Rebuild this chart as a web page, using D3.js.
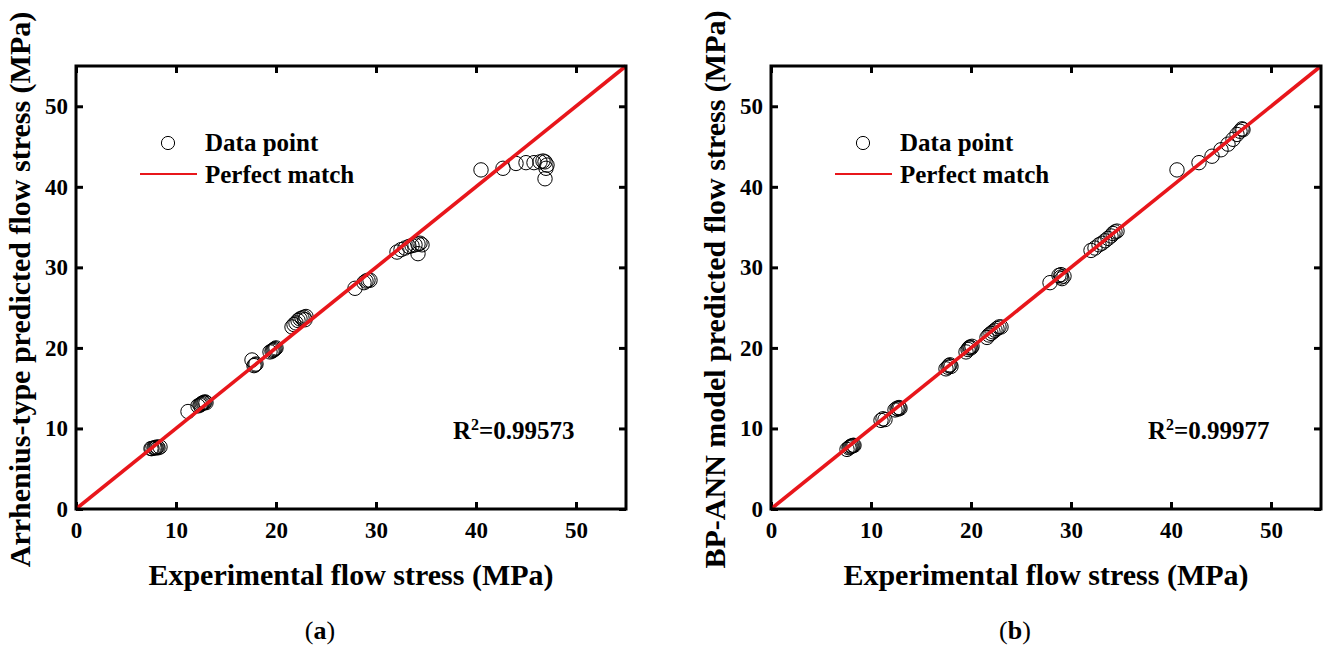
<!DOCTYPE html>
<html>
<head>
<meta charset="utf-8">
<script src="https://cdn.jsdelivr.net/npm/d3@7"></script>
<style>
  body { margin: 0; background: #fff; }
  svg text { font-family: "Liberation Serif", "Times New Roman", serif; fill: #000; }
</style>
</head>
<body>
<svg id="chart" width="1328" height="650"></svg>
<script>
// Axis ticks shared by both panels
const tickValues = [0, 10, 20, 30, 40, 50];
const axisDomain = [0, 55];

// (a) Arrhenius-type model: experimental vs predicted flow stress (MPa)
const expA = [
  7.5, 7.6, 7.8, 7.9, 8.0, 8.1, 8.2, 8.4,
  11.2, 12.2, 12.4, 12.5, 12.6, 12.7, 12.8, 12.9, 13.0,
  17.6, 17.8, 17.9, 18.0,
  19.4, 19.6, 19.7, 19.8, 19.9, 20.0,
  21.6, 21.8, 22.0, 22.2, 22.4, 22.6, 22.8, 23.0, 22.9,
  27.9, 28.8, 29.0, 29.2, 29.4,
  32.1, 32.5, 32.9, 33.3, 33.6, 33.9, 34.2, 34.4, 34.6, 34.2,
  40.5, 42.7, 44.0, 45.0, 45.8, 46.4, 46.7, 46.9, 47.1, 47.0, 46.9
];
const predA = [
  7.5, 7.5, 7.6, 7.6, 7.6, 7.7, 7.6, 7.7,
  12.1, 12.8, 12.9, 13.0, 13.1, 13.2, 13.2, 13.3, 13.2,
  18.5, 17.8, 17.9, 18.0,
  19.5, 19.6, 19.7, 19.8, 19.9, 20.0,
  22.6, 22.9, 23.1, 23.4, 23.6, 23.7, 23.8, 23.9, 23.5,
  27.4, 28.1, 28.3, 28.4, 28.4,
  31.9, 32.2, 32.4, 32.6, 32.7, 32.8, 32.9, 33.0, 32.8, 31.7,
  42.1, 42.3, 42.9, 43.0, 43.0, 43.1, 43.2, 43.1, 42.7, 42.3, 41.0
];

// (b) BP-ANN model: experimental vs predicted flow stress (MPa)
const expB = [
  7.6, 7.8, 7.9, 8.0, 8.1, 8.2, 8.3,
  11.0, 11.2, 11.4, 12.4, 12.6, 12.7, 12.8, 12.9,
  17.5, 17.7, 17.8, 17.9, 18.0,
  19.5, 19.7, 19.8, 19.9, 20.0, 20.1,
  21.6, 21.8, 22.0, 22.2, 22.4, 22.6, 22.8, 23.0,
  27.9, 28.8, 29.0, 29.1, 29.3, 29.0,
  32.0, 32.4, 32.8, 33.1, 33.4, 33.7, 34.0, 34.2, 34.4, 34.6,
  40.6, 42.8, 44.1, 45.0, 45.7, 46.2, 46.6, 46.9, 47.1, 47.2
];
const predB = [
  7.4, 7.6, 7.7, 7.8, 7.8, 7.9, 7.9,
  11.0, 11.2, 11.1, 12.3, 12.5, 12.4, 12.6, 12.5,
  17.4, 17.6, 17.8, 17.9, 17.7,
  19.5, 19.8, 20.0, 20.1, 20.0, 20.2,
  21.3, 21.6, 21.8, 22.0, 22.2, 22.4, 22.6, 22.6,
  28.1, 29.0, 28.8, 28.6, 28.9, 29.1,
  32.1, 32.4, 32.8, 33.0, 33.3, 33.6, 33.9, 34.2, 34.4, 34.5,
  42.1, 43.0, 43.8, 44.6, 45.3, 45.9, 46.5, 46.9, 47.2, 47.1
];

const panels = [
  { left: 76, exp: expA, pred: predA, r2: "0.99573",
    yTitle: "Arrhenius-type predicted flow stress (MPa)", tag: "a" },
  { left: 771, exp: expB, pred: predB, r2: "0.99977",
    yTitle: "BP-ANN model predicted flow stress (MPa)", tag: "b" }
];

const svg = d3.select("#chart");
const plotW = 550, plotTop = 66, plotBottom = 509;
const red = "#e8161b";
const tickLen = 7;

// Strip D3's default axis fonts and apply the figure's tick style
function styleAxis(sel, showLabels) {
  sel.attr("font-family", null).attr("font-size", null);
  sel.select(".domain").remove();
  sel.selectAll(".tick line").attr("stroke", "#000").attr("stroke-width", 3);
  sel.selectAll(".tick text")
    .attr("font-size", 23)
    .attr("font-weight", "bold")
    .attr("fill", "#000")
    .attr("display", showLabels ? null : "none");
}

panels.forEach(p => {
  const x = d3.scaleLinear().domain(axisDomain).range([p.left, p.left + plotW]);
  const y = d3.scaleLinear().domain(axisDomain).range([plotBottom, plotTop]);
  const g = svg.append("g");

  // Inward ticks on all four sides, labels on bottom and left only
  g.append("g").attr("transform", `translate(0,${plotBottom})`)
    .call(d3.axisBottom(x).tickValues(tickValues).tickSizeInner(-tickLen).tickSizeOuter(0).tickPadding(13))
    .call(s => styleAxis(s, true));
  g.append("g").attr("transform", `translate(0,${plotTop})`)
    .call(d3.axisTop(x).tickValues(tickValues).tickSizeInner(-tickLen).tickSizeOuter(0))
    .call(s => styleAxis(s, false));
  g.append("g").attr("transform", `translate(${p.left},0)`)
    .call(d3.axisLeft(y).tickValues(tickValues).tickSizeInner(-tickLen).tickSizeOuter(0).tickPadding(8))
    .call(s => styleAxis(s, true));
  g.append("g").attr("transform", `translate(${p.left + plotW},0)`)
    .call(d3.axisRight(y).tickValues(tickValues).tickSizeInner(-tickLen).tickSizeOuter(0))
    .call(s => styleAxis(s, false));

  // Data points (open circles)
  const pts = p.exp.map((v, i) => [v, p.pred[i]]);
  g.append("g").selectAll("circle").data(pts).join("circle")
    .attr("cx", d => x(d[0])).attr("cy", d => y(d[1])).attr("r", 7.2)
    .attr("fill", "none").attr("stroke", "#000").attr("stroke-width", 1);

  // Perfect-match diagonal y = x
  g.append("line")
    .attr("x1", x(axisDomain[0])).attr("y1", y(axisDomain[0]))
    .attr("x2", x(axisDomain[1])).attr("y2", y(axisDomain[1]))
    .attr("stroke", red).attr("stroke-width", 3.6);

  // Frame
  g.append("rect")
    .attr("x", p.left).attr("y", plotTop)
    .attr("width", plotW).attr("height", plotBottom - plotTop)
    .attr("fill", "none").attr("stroke", "#000").attr("stroke-width", 3);

  // Legend
  const lg = g.append("g").attr("transform", `translate(${p.left},0)`);
  lg.append("circle").attr("cx", 92).attr("cy", 143).attr("r", 6.6)
    .attr("fill", "none").attr("stroke", "#000").attr("stroke-width", 1);
  lg.append("line").attr("x1", 64).attr("x2", 121).attr("y1", 174).attr("y2", 174)
    .attr("stroke", red).attr("stroke-width", 2.2);
  lg.append("text").attr("x", 129).attr("y", 151)
    .attr("font-size", 25).attr("font-weight", "bold").text("Data point");
  lg.append("text").attr("x", 129).attr("y", 183)
    .attr("font-size", 25).attr("font-weight", "bold").text("Perfect match");

  // Coefficient of determination
  const r2 = g.append("text").attr("x", p.left + 377).attr("y", 439)
    .attr("font-size", 25).attr("font-weight", "bold");
  r2.append("tspan").text("R");
  r2.append("tspan").attr("dy", -9).attr("font-size", 16).text("2");
  r2.append("tspan").attr("dy", 9).text("=" + p.r2);

  // Axis titles
  const cx = p.left + plotW / 2;
  g.append("text").attr("x", cx).attr("y", 585).attr("text-anchor", "middle")
    .attr("font-size", 30).attr("font-weight", "bold")
    .text("Experimental flow stress (MPa)");
  g.append("text")
    .attr("transform", `translate(${p.left - 46},${(plotTop + plotBottom) / 2 + 2}) rotate(-90)`)
    .attr("text-anchor", "middle")
    .attr("font-size", 30).attr("font-weight", "bold")
    .text(p.yTitle);

  // Panel caption
  const cap = g.append("text").attr("x", p.left + 244).attr("y", 639).attr("text-anchor", "middle")
    .attr("font-size", 26);
  cap.append("tspan").text("(");
  cap.append("tspan").attr("font-weight", "bold").text(p.tag);
  cap.append("tspan").text(")");
});
</script>
</body>
</html>
